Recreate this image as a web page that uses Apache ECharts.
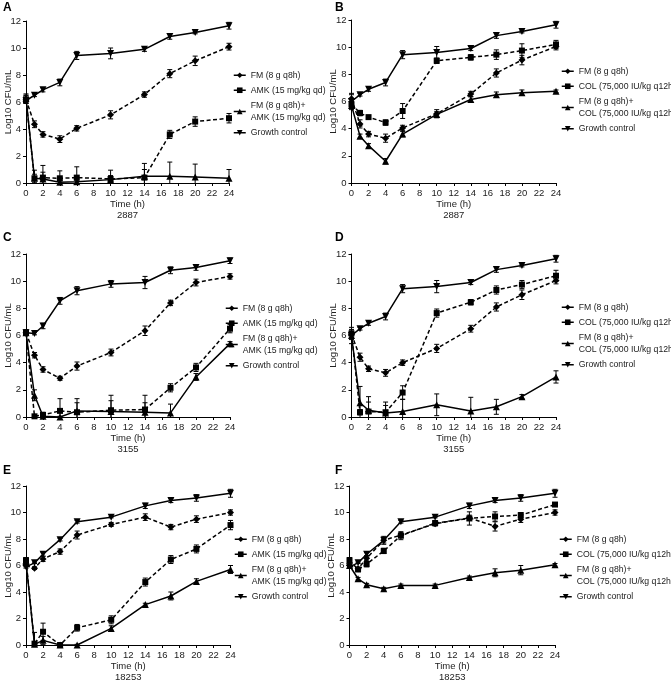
<!DOCTYPE html>
<html><head><meta charset="utf-8">
<script src="https://cdn.jsdelivr.net/npm/echarts@6/dist/echarts.min.js"></script>
<style>html,body{margin:0;padding:0;background:#fff;overflow:hidden}#c{width:671px;height:684px}</style>
</head><body><div id="c"></div>
<script>
// ---- data ----
const times = [0, 1, 2, 4, 6, 10, 14, 17, 20, 24];
const xTicks = [0, 2, 4, 6, 8, 10, 12, 14, 16, 18, 20, 22, 24];
const yTicks = [0, 2, 4, 6, 8, 10, 12];
const panelLetters = ['A', 'B', 'C', 'D', 'E', 'F'];
const strains = ['2887', '2887', '3155', '3155', '18253', '18253'];
const namesAMK = ['FM (8 g q8h)', 'AMK (15 mg/kg qd)', 'FM (8 g q8h)+ AMK (15 mg/kg qd)', 'Growth control'];
const namesCOL = ['FM (8 g q8h)', 'COL (75,000 IU/kg q12h)', 'FM (8 g q8h)+ COL (75,000 IU/kg q12h)', 'Growth control'];

// Panel A (2887, AMK)
const A_FM      = [6.2, 4.35, 3.6, 3.25, 4.05, 5.05, 6.55, 8.1, 9.05, 10.1];
const A_FM_err  = [0.3, 0.25, 0.2, 0.25, 0.2, 0.3, 0.2, 0.3, 0.35, 0.25];
const A_AMK     = [6.2, 0.35, 0.4, 0.35, 0.4, 0.3, 0.4, 3.6, 4.55, 4.8];
const A_AMK_err = [0.3, 0.6, 0.9, 0.55, 0.8, 0.65, 1.05, 0.3, 0.35, 0.35];
const A_CMB     = [6.3, 0.35, 0.3, 0.05, 0.1, 0.25, 0.5, 0.5, 0.45, 0.35];
const A_CMB_err = [0.3, 0.3, 0.5, 0.1, 0.1, 0.3, 0.5, 1.05, 0.95, 0.65];
const A_GC      = [6.1, 6.5, 6.9, 7.45, 9.45, 9.6, 9.9, 10.85, 11.15, 11.65];
const A_GC_err  = [0.2, 0.1, 0.15, 0.25, 0.3, 0.4, 0.15, 0.2, 0.1, 0.25];

// Panel B (2887, COL)
const B_FM      = [6.2, 4.35, 3.6, 3.3, 4.05, 5.1, 6.55, 8.1, 9.05, 10.05];
const B_FM_err  = [0.3, 0.3, 0.2, 0.3, 0.2, 0.3, 0.2, 0.3, 0.35, 0.25];
const B_COL     = [5.8, 5.15, 4.85, 4.45, 5.3, 9.0, 9.25, 9.45, 9.75, 10.2];
const B_COL_err = [0.2, 0.2, 0.1, 0.2, 0.55, 0.2, 0.2, 0.35, 0.5, 0.3];
const B_CMB     = [5.7, 3.45, 2.75, 1.6, 3.6, 5.05, 6.15, 6.5, 6.65, 6.75];
const B_CMB_err = [0.2, 0.15, 0.15, 0.2, 0.2, 0.2, 0.2, 0.2, 0.2, 0.1];
const B_GC      = [6.0, 6.5, 6.9, 7.4, 9.45, 9.6, 9.9, 10.85, 11.15, 11.65];
const B_GC_err  = [0.6, 0.1, 0.15, 0.25, 0.3, 0.45, 0.15, 0.2, 0.1, 0.25];

// Panel C (3155, AMK)
const C_FM      = [6.2, 4.55, 3.5, 2.85, 3.75, 4.75, 6.35, 8.4, 9.9, 10.35];
const C_FM_err  = [0.2, 0.2, 0.2, 0.15, 0.3, 0.25, 0.35, 0.2, 0.25, 0.2];
const C_AMK     = [6.2, 0.05, 0.15, 0.45, 0.35, 0.5, 0.55, 2.15, 3.65, 6.5];
const C_AMK_err = [0.2, 0.05, 0.2, 0.9, 0.7, 1.1, 1.05, 0.3, 0.3, 0.3];
const C_CMB     = [6.2, 1.6, 0.05, 0.0, 0.45, 0.4, 0.35, 0.3, 2.95, 5.4];
const C_CMB_err = [0.2, 0.4, 0.1, 0.05, 0.9, 0.8, 0.7, 0.65, 0.25, 0.15];
const C_GC      = [6.2, 6.15, 6.7, 8.55, 9.3, 9.8, 9.9, 10.8, 11.0, 11.5];
const C_GC_err  = [0.1, 0.1, 0.2, 0.25, 0.3, 0.25, 0.45, 0.25, 0.2, 0.2];

// Panel D (3155, COL)
const D_FM      = [6.1, 4.4, 3.55, 3.25, 4.0, 5.05, 6.5, 8.1, 9.0, 10.05];
const D_FM_err  = [0.3, 0.3, 0.2, 0.25, 0.2, 0.3, 0.25, 0.3, 0.35, 0.25];
const D_COL     = [6.15, 0.35, 0.4, 0.35, 1.8, 7.65, 8.45, 9.35, 9.75, 10.4];
const D_COL_err = [0.3, 0.2, 0.7, 0.5, 0.5, 0.3, 0.2, 0.3, 0.3, 0.4];
const D_CMB     = [6.0, 1.05, 0.5, 0.3, 0.4, 0.9, 0.45, 0.75, 1.5, 2.95];
const D_CMB_err = [0.3, 1.2, 1.0, 0.8, 0.9, 0.8, 1.0, 0.55, 0.15, 0.45];
const D_GC      = [6.0, 6.5, 6.9, 7.4, 9.45, 9.6, 9.9, 10.85, 11.15, 11.65];
const D_GC_err  = [0.6, 0.1, 0.15, 0.25, 0.3, 0.45, 0.15, 0.2, 0.1, 0.25];

// Panel E (18253, AMK)
const E_FM      = [6.0, 5.8, 6.5, 7.05, 8.3, 9.1, 9.65, 8.9, 9.5, 10.0];
const E_FM_err  = [0.1, 0.1, 0.2, 0.2, 0.3, 0.15, 0.25, 0.2, 0.25, 0.2];
const E_AMK     = [6.4, 0.1, 1.0, 0.0, 1.3, 1.9, 4.75, 6.45, 7.25, 9.05];
const E_AMK_err = [0.2, 0.1, 0.65, 0.05, 0.25, 0.3, 0.3, 0.3, 0.3, 0.35];
const E_CMB     = [6.3, 0.05, 0.35, 0.0, 0.0, 1.25, 3.05, 3.7, 4.8, 5.7];
const E_CMB_err = [0.2, 0.9, 0.3, 0.05, 0.05, 0.2, 0.1, 0.3, 0.2, 0.3];
const E_GC      = [5.9, 6.2, 6.85, 7.95, 9.3, 9.65, 10.5, 10.9, 11.1, 11.45];
const E_GC_err  = [0.1, 0.05, 0.15, 0.1, 0.1, 0.05, 0.2, 0.15, 0.25, 0.3];

// Panel F (18253, COL)
const F_FM      = [6.0, 5.75, 6.55, 7.9, 8.3, 9.15, 9.6, 8.95, 9.5, 10.0];
const F_FM_err  = [0.1, 0.1, 0.2, 0.3, 0.2, 0.15, 0.2, 0.35, 0.25, 0.2];
const F_COL     = [6.4, 5.7, 6.1, 7.1, 8.25, 9.2, 9.55, 9.7, 9.8, 10.6];
const F_COL_err = [0.2, 0.15, 0.2, 0.2, 0.3, 0.2, 0.5, 0.35, 0.2, 0.1];
const F_CMB     = [6.0, 5.0, 4.55, 4.25, 4.5, 4.5, 5.1, 5.45, 5.65, 6.05];
const F_CMB_err = [0.1, 0.1, 0.1, 0.1, 0.1, 0.1, 0.1, 0.3, 0.35, 0.1];
const F_GC      = [5.9, 6.2, 6.85, 7.9, 9.3, 9.65, 10.5, 10.9, 11.1, 11.45];
const F_GC_err  = [0.1, 0.05, 0.15, 0.2, 0.1, 0.05, 0.2, 0.15, 0.25, 0.3];

// ---- layout ----
const panels = [
  {grid:{left:26, top:21, width:203, height:162}, legend:{left:233, top:69}, names:namesAMK,
   data:[[A_FM,A_FM_err],[A_AMK,A_AMK_err],[A_CMB,A_CMB_err],[A_GC,A_GC_err]], letter:[3,2]},
  {grid:{left:351.5, top:20, width:204.5, height:163}, legend:{left:561, top:65}, names:namesCOL,
   data:[[B_FM,B_FM_err],[B_COL,B_COL_err],[B_CMB,B_CMB_err],[B_GC,B_GC_err]], letter:[335,2]},
  {grid:{left:26, top:254, width:204, height:163}, legend:{left:225, top:302}, names:namesAMK,
   data:[[C_FM,C_FM_err],[C_AMK,C_AMK_err],[C_CMB,C_CMB_err],[C_GC,C_GC_err]], letter:[3,232]},
  {grid:{left:351.5, top:254, width:204.5, height:163}, legend:{left:561, top:301}, names:namesCOL,
   data:[[D_FM,D_FM_err],[D_COL,D_COL_err],[D_CMB,D_CMB_err],[D_GC,D_GC_err]], letter:[335,232]},
  {grid:{left:26, top:486, width:204.5, height:163.5}, legend:{left:234, top:533}, names:namesAMK,
   data:[[E_FM,E_FM_err],[E_AMK,E_AMK_err],[E_CMB,E_CMB_err],[E_GC,E_GC_err]], letter:[3,465]},
  {grid:{left:349.5, top:486, width:205.5, height:163.5}, legend:{left:559, top:533}, names:namesCOL,
   data:[[F_FM,F_FM_err],[F_COL,F_COL_err],[F_CMB,F_CMB_err],[F_GC,F_GC_err]], letter:[335,465]}
];

const symbols = ['diamond', 'rect', 'triangle', 'triangle'];
const symbolRot = [0, 0, 0, 180];
const symbolSizes = [7, 6, 7, 7];
const dashed = [true, true, false, false];
const FONT = 'Liberation Sans, Arial, sans-serif';

function renderErr(params, api) {
  const x = api.value(0), y = api.value(1), e = api.value(2);
  const lo = Math.max(0, y - e), hi = y + e;
  const p1 = api.coord([x, hi]), p2 = api.coord([x, lo]);
  const w = 2.5;
  const st = {stroke: '#000', lineWidth: 1};
  const ch = [
    {type:'line', shape:{x1:p1[0], y1:p1[1], x2:p2[0], y2:p2[1]}, style:st},
    {type:'line', shape:{x1:p1[0]-w, y1:p1[1], x2:p1[0]+w, y2:p1[1]}, style:st}
  ];
  if (y - e > 0) ch.push({type:'line', shape:{x1:p2[0]-w, y1:p2[1], x2:p2[0]+w, y2:p2[1]}, style:st});
  return {type:'group', children:ch};
}

const grids = [], xAxes = [], yAxes = [], series = [], legends = [], graphics = [];
panels.forEach((p, i) => {
  grids.push(Object.assign({containLabel:false}, p.grid));
  xAxes.push({
    type:'value', gridIndex:i, min:xTicks[0], max:xTicks[xTicks.length-1], interval:2,
    name:'Time (h)\n' + strains[i], nameLocation:'middle', nameGap:16,
    nameTextStyle:{fontFamily:FONT, fontSize:9.5, color:'#222', lineHeight:11, verticalAlign:'top'},
    axisLine:{lineStyle:{color:'#000', width:1}},
    axisTick:{show:true, length:3, lineStyle:{color:'#000'}},
    axisLabel:{fontFamily:FONT, fontSize:9.5, color:'#222', margin:5},
    splitLine:{show:false}
  });
  yAxes.push({
    type:'value', gridIndex:i, min:yTicks[0], max:yTicks[yTicks.length-1], interval:2,
    name:'Log10 CFU/mL', nameLocation:'middle', nameGap:13, nameRotate:90, nameMoveOverlap:false,
    nameTextStyle:{fontFamily:FONT, fontSize:9.5, color:'#222'},
    axisLine:{show:true, lineStyle:{color:'#000', width:1}},
    axisTick:{show:true, length:3, lineStyle:{color:'#000'}},
    axisLabel:{fontFamily:FONT, fontSize:9.5, color:'#222', margin:5},
    splitLine:{show:false}
  });
  p.data.forEach((d, k) => {
    const vals = d[0], errs = d[1];
    series.push({
      type:'custom', name:'err'+i+'_'+k, xAxisIndex:i, yAxisIndex:i,
      renderItem:renderErr, clip:false, silent:true, z:1,
      data: times.map((t, j) => [t, vals[j], errs[j]])
    });
    series.push({
      type:'line', name:p.names[k], xAxisIndex:i, yAxisIndex:i, clip:false,
      symbol:symbols[k], symbolRotate:symbolRot[k], symbolSize:symbolSizes[k], z:3,
      itemStyle:{color:'#000'},
      lineStyle:{color:'#000', width:1.5, type: dashed[k] ? [4, 2.5] : 'solid'},
      data: times.map((t, j) => [t, vals[j]])
    });
  });
  legends.push({
    orient:'vertical', left:p.legend.left, top:p.legend.top, data:p.names, padding:0,
    itemWidth:12, itemHeight:7, itemGap:2.5, selectedMode:false,
    lineStyle:{type:'solid', width:1.5},
    textStyle:{fontFamily:FONT, fontSize:8.7, color:'#222', lineHeight:12.5},
    formatter: n => n.replace('+ ', '+\n')
  });
  graphics.push({type:'text', left:p.letter[0], top:p.letter[1],
    style:{text:panelLetters[i], font:'bold 12px ' + FONT, fill:'#000'}});
});

const chart = echarts.init(document.getElementById('c'), null, {renderer:'canvas'});
chart.setOption({
  animation:false, backgroundColor:'#fff',
  grid:grids, xAxis:xAxes, yAxis:yAxes, series:series, legend:legends, graphic:graphics
});
</script></body></html>
